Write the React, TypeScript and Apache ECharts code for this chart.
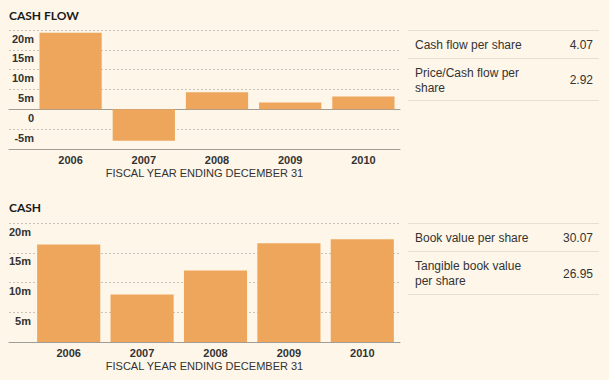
import React, { useEffect, useRef } from "react";
import * as echarts from "echarts";

const years = ["2006", "2007", "2008", "2009", "2010"];
const cashFlow = [19.3, -7.9, 4.3, 1.75, 3.25];
const cash = [16.4, 8.0, 12.0, 16.6, 17.25];

const cashFlowStatLabels = ["Cash flow per share", "Price/Cash flow per\nshare"];
const cashFlowStatValues = ["4.07", "2.92"];
const cashStatLabels = ["Book value per share", "Tangible book value\nper share"];
const cashStatValues = ["30.07", "26.95"];

const axisName = "FISCAL YEAR ENDING DECEMBER 31";

const BG = "#FEF6E8";
const BAR = "#EDA65B";
const TXT = "#333333";
const SANS = "'Liberation Sans', Arial, sans-serif";
const GRID_LINE = "#c8c4bc";
const AXIS_LINE = "#a09c96";
const TABLE_LINE = "#E8DFD0";

function statTable(labels: string[], values: string[], rowLines: number[]) {
  const els: any[] = [];
  rowLines.forEach((y) => {
    els.push({
      type: "line",
      shape: { x1: 408, y1: y + 0.5, x2: 599, y2: y + 0.5 },
      style: { stroke: TABLE_LINE, lineWidth: 1 },
      silent: true,
    });
  });
  labels.forEach((label, i) => {
    const cy = (rowLines[i] + rowLines[i + 1]) / 2 + 1;
    els.push({
      type: "text",
      style: {
        text: label,
        x: 415,
        y: cy,
        textAlign: "left",
        textVerticalAlign: "middle",
        font: `12px ${SANS}`,
        lineHeight: 15,
        fill: TXT,
      },
    });
    els.push({
      type: "text",
      style: {
        text: values[i],
        x: 593,
        y: cy,
        textAlign: "right",
        textVerticalAlign: "middle",
        font: `12px ${SANS}`,
        fill: TXT,
      },
    });
  });
  return els;
}

export default function App() {
  const ref = useRef<HTMLDivElement>(null);
  useEffect(() => {
    if (!ref.current) return;
    const chart = echarts.init(ref.current, null, { renderer: "svg" });
    const hiddenValueX = (grid: number, extra: any) => ({
      gridIndex: grid,
      type: "value",
      min: 0,
      max: 1,
      axisTick: { show: false },
      axisLabel: { show: false },
      splitLine: { show: false },
      ...extra,
    });
    const nameStyle = { fontFamily: SANS, fontSize: 11, color: TXT };
    const catX = (grid: number, margin: number) => ({
      gridIndex: grid,
      type: "category",
      data: years,
      axisLine: { show: false },
      axisTick: { show: false },
      axisLabel: { margin, fontFamily: SANS, fontSize: 11, fontWeight: "bold", color: TXT },
    });
    const gridY = (grid: number, min: number) => ({
      gridIndex: grid,
      type: "value",
      min,
      max: 20,
      interval: 5,
      axisLine: { show: false },
      axisTick: { show: false },
      axisLabel: { show: false },
      splitLine: { show: true, lineStyle: { color: GRID_LINE, type: [2, 2], width: 1 } },
    });
    const labelY = (grid: number, min: number, margin: number, fmt: (v: number) => string) => ({
      gridIndex: grid,
      type: "value",
      min,
      max: 20,
      interval: 5,
      axisLine: { show: false },
      axisTick: { show: false },
      splitLine: { show: false },
      axisLabel: {
        margin,
        verticalAlign: "top",
        padding: [3, 0, 0, 0],
        fontFamily: SANS,
        fontSize: 11,
        fontWeight: "bold",
        color: TXT,
        formatter: fmt,
      },
    });
    const titleStyle = { fontFamily: "Lato, sans-serif", fontWeight: "bold", fontSize: 12, color: "#1a1a1a" };
    chart.setOption({
      animation: false,
      backgroundColor: BG,
      title: [
        { text: "CASH FLOW", left: 9, top: 9, padding: 0, textStyle: titleStyle },
        { text: "CASH", left: 9, top: 201, padding: 0, textStyle: titleStyle },
      ],
      grid: [
        { left: 9, right: 209, top: 30, height: 119 },
        { left: 34, right: 209, top: 30, height: 119 },
        { left: 9, right: 209, top: 223, height: 119 },
        { left: 32, right: 210, top: 223, height: 119 },
      ],
      xAxis: [
        hiddenValueX(0, {
          position: "bottom",
          axisLine: { show: true, onZero: false, lineStyle: { color: AXIS_LINE } },
          name: axisName,
          nameLocation: "middle",
          nameGap: 18,
          nameTextStyle: nameStyle,
        }),
        hiddenValueX(0, {
          position: "top",
          axisLine: { show: true, onZero: true, lineStyle: { color: AXIS_LINE } },
        }),
        catX(1, 5),
        hiddenValueX(2, {
          position: "bottom",
          axisLine: { show: true, onZero: false, lineStyle: { color: AXIS_LINE } },
          name: axisName,
          nameLocation: "middle",
          nameGap: 18,
          nameTextStyle: nameStyle,
        }),
        catX(3, 5),
      ],
      yAxis: [
        gridY(0, -10),
        labelY(1, -10, 0, (v: number) => (v === -10 ? "" : v === 0 ? "0" : `${v}m`)),
        gridY(2, 0),
        labelY(3, 0, 1, (v: number) => (v === 0 ? "" : `${v}m`)),
      ],
      series: [
        {
          type: "bar",
          xAxisIndex: 2,
          yAxisIndex: 1,
          data: cashFlow,
          barCategoryGap: "15%",
          itemStyle: { color: BAR },
        },
        {
          type: "bar",
          xAxisIndex: 4,
          yAxisIndex: 3,
          data: cash,
          barCategoryGap: "14%",
          itemStyle: { color: BAR },
        },
      ],
      graphic: [
        ...statTable(cashFlowStatLabels, cashFlowStatValues, [30, 58, 100]),
        ...statTable(cashStatLabels, cashStatValues, [223, 251, 294]),
      ],
    });
    return () => chart.dispose();
  }, []);
  return (
    <div
      ref={ref}
      style={{ position: "absolute", left: 0, top: 0, width: 609, height: 380, background: BG }}
    />
  );
}
